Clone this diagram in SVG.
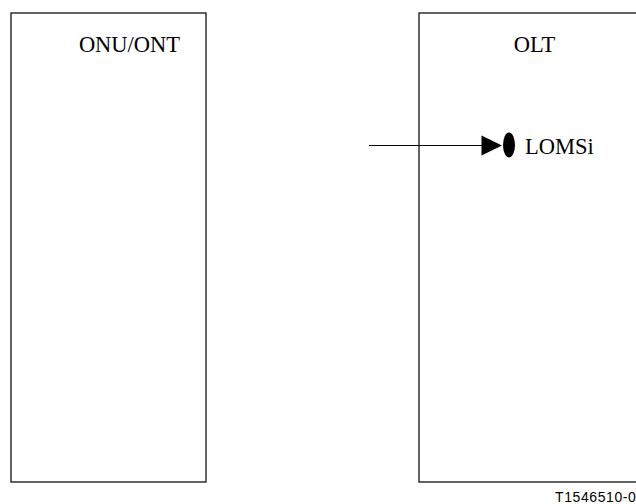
<svg xmlns="http://www.w3.org/2000/svg" width="636" height="504" viewBox="0 0 636 504">
<style>
.box{fill:#fff;stroke:#222;stroke-width:1.4}
.t{font-family:"Liberation Serif","Times New Roman",serif;font-size:22.5px;fill:#000}
.s{font-family:"Liberation Sans",Arial,sans-serif;font-size:14px;letter-spacing:0.6px;fill:#000}
.ln{stroke:#000;stroke-width:1.2;fill:none}
</style>
<rect width="636" height="504" fill="#fff"/>
<g id="onu">
<rect class="box" x="11" y="13" width="195" height="469"/>
<text class="t" x="129.5" y="52" text-anchor="middle">ONU/ONT</text>
</g>
<g id="olt">
<rect class="box" x="419" y="13" width="240" height="469"/>
<text class="t" x="534.5" y="52" text-anchor="middle">OLT</text>
</g>
<g id="connectors">
<line class="ln" x1="369" y1="145.5" x2="483" y2="145.5"/>
<polygon points="481.5,135.5 481.5,155.5 502,145.5" fill="#000"/>
</g>
<g id="lomsi">
<ellipse cx="509" cy="145" rx="6" ry="12.5" fill="#000"/>
<text class="t" x="525" y="153.5">LOMSi</text>
</g>
<text class="s" x="555" y="502">T1546510-0</text>
</svg>
